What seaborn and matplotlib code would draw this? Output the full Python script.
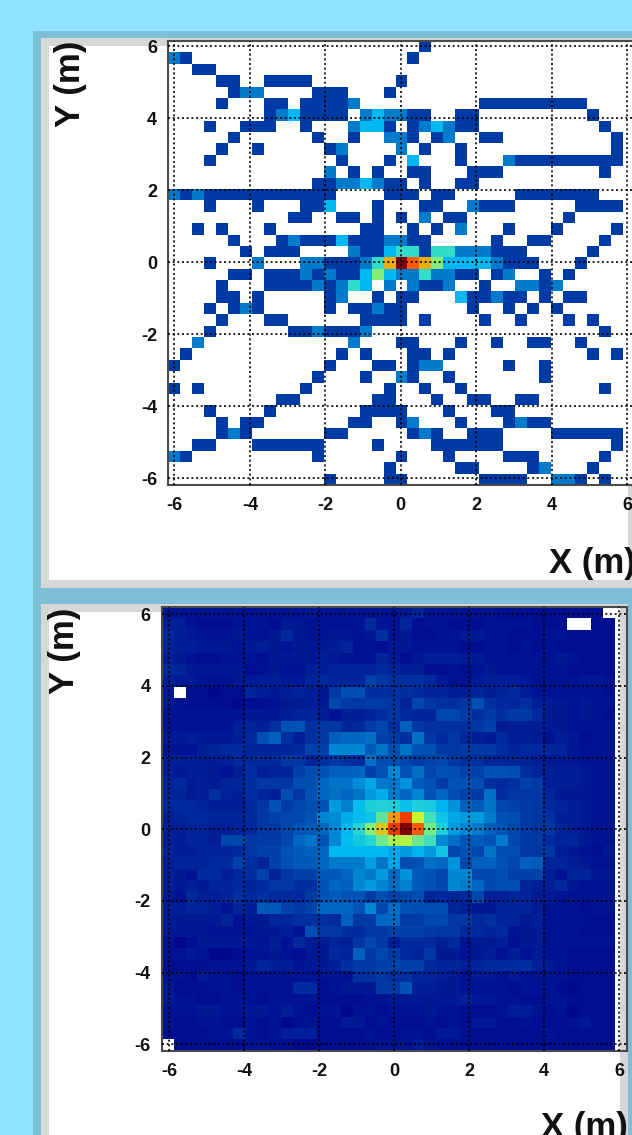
import numpy as np
import matplotlib
matplotlib.use("Agg")
import matplotlib.pyplot as plt
import seaborn as sns

from matplotlib.colors import LinearSegmentedColormap
from matplotlib.patches import Rectangle

WIDTH, HEIGHT = 632, 1135

X_TICKS = [-6, -4, -2, 0, 2, 4, 6]
Y_TICKS = [6, 4, 2, 0, -2, -4, -6]
MINOR_TICKS = [v / 2 for v in range(-12, 13)]
X_TITLE = "X (m)"
Y_TITLE = "Y (m)"

# top histogram, counts per bin as hex digits, top row first
top_rows = [
    "0000000000 0000000000 0100000000 000000000",
    "2100000000 0000000000 1000000000 000000000",
    "0011000000 0000000000 0000000000 000000000",
    "0000110011 1100000001 0000000000 000000000",
    "0000012200 0011100010 0000000000 000000000",
    "0000100011 0111120000 0000001111 111110000",
    "0000000012 3111102322 1100110000 000001000",
    "0001001110 0100023310 1232110000 000000100",
    "0000010000 0010010022 1012001100 000000010",
    "0000100100 0001200002 0100100000 000000010",
    "0001000000 0000100010 3000100021 111111110",
    "0000000000 0002010100 1100011100 000000100",
    "0000000000 0011223211 0100110000 000000000",
    "2121111111 1111000011 1011000001 111111000",
    "0001000100 0113000100 0110021110 000011110",
    "0000000000 1100110101 0201100000 000100000",
    "0010100010 0000001100 1010200010 001000010",
    "0000010001 2111311122 1100000100 110000100",
    "0000001011 1000021134 4144222111 000001000",
    "0001000200 022111247a 8753333211 100010000",
    "0000011011 1212113532 2422110120 010100000",
    "0000100011 1121243020 2112001002 212000000",
    "0000110100 0001200101 1000311211 010110000",
    "0001012100 0001011211 0000010010 101000000",
    "0000100011 0000001111 0100001001 000101000",
    "0001000000 1121112000 0000000000 000000100",
    "0020000000 0000020001 1000100100 110010000",
    "0100000000 0000101000 1101000000 000001010",
    "1000000000 0001000110 1220000010 010000000",
    "0000000000 0010001002 1001000000 010000000",
    "1010000000 0100000010 0100100000 000000100",
    "0000000001 1000000110 0010011001 100000000",
    "0001000010 0000001111 0001000110 000000000",
    "0000101100 0000011001 2000100012 110000000",
    "0000121000 0001100000 1210011100 001111110",
    "0011000111 1110000100 0011111100 000000010",
    "2100000000 0010000001 0001000011 100000100",
    "0000000000 0000000010 0000110000 120001000",
    "0000000000 0001000011 0000001111 002210100",
]

# bottom histogram, read as percent of the peak, top row first
bottom_rows = [
    [3,3,3,3,3,3,3,3,3,3,3,3,4,3,3,3,3,3,3,3,4,6,3,3,3,3,3,3,2,2,2,2,2,2,2,2,2,0],
    [5,5,3,2,2,2,3,3,3,2,4,4,3,3,3,3,3,7,3,3,6,2,3,3,2,2,2,3,3,3,3,2,2,2,0,0,2,2],
    [7,5,4,3,3,3,4,3,3,4,7,4,3,3,4,4,3,4,8,3,4,2,2,3,3,4,4,3,3,2,2,2,3,3,2,2,2,2],
    [6,5,5,4,4,4,3,4,5,4,3,4,4,4,5,6,3,3,2,4,4,3,3,3,3,2,2,3,3,2,3,2,3,2,2,2,2,2],
    [5,4,3,2,2,3,3,3,2,4,4,4,4,5,4,3,3,3,6,4,2,4,5,5,5,4,4,3,3,3,3,3,3,4,3,2,2,2],
    [7,6,4,4,4,4,4,2,3,4,3,3,5,5,6,6,6,6,7,6,5,5,2,2,3,2,3,4,3,3,3,3,3,3,2,2,2,2],
    [5,4,4,3,3,3,4,4,5,5,4,4,6,7,6,6,6,11,9,8,8,8,7,4,3,3,4,5,5,5,4,3,3,3,3,4,4,3],
    [4,0,2,2,1,2,2,6,5,4,5,6,5,4,9,13,13,8,8,8,8,7,6,6,5,5,6,5,6,7,5,3,3,3,3,3,3,2],
    [4,3,2,2,2,2,1,2,2,3,4,4,5,4,12,10,9,10,10,9,6,12,9,8,8,9,13,8,7,6,8,5,4,4,3,4,3,3],
    [3,3,3,3,3,3,3,4,4,4,5,6,6,5,3,5,5,6,8,9,7,6,6,12,12,10,8,10,8,10,10,7,4,4,3,4,3,2],
    [3,3,3,3,3,3,5,6,5,8,14,14,8,9,9,6,7,10,12,8,16,9,8,8,8,8,9,11,4,5,5,5,4,4,3,3,3,3],
    [4,4,5,4,4,4,5,7,13,16,8,5,8,9,16,17,17,18,11,10,8,18,9,7,9,6,5,4,7,5,5,4,3,5,4,2,3,3],
    [3,3,3,5,6,7,7,6,6,6,6,7,11,11,22,22,22,15,19,13,19,14,13,10,9,10,10,10,8,6,7,7,6,6,4,3,3,3],
    [5,5,5,5,5,5,7,7,7,7,9,9,6,8,9,8,7,18,13,13,12,10,11,12,9,8,8,6,6,6,6,5,4,4,4,3,3,3],
    [5,4,5,5,4,3,5,8,5,6,6,11,13,14,16,16,17,11,14,22,14,18,12,14,13,11,11,14,14,13,8,6,5,5,5,4,3,3],
    [6,7,4,5,4,6,6,8,9,9,9,13,13,17,19,19,23,27,20,19,24,15,14,10,14,14,13,8,7,8,11,10,5,5,5,4,3,3],
    [6,6,4,5,8,6,5,8,6,5,13,9,14,17,18,17,19,25,28,20,17,22,14,17,13,11,10,18,8,9,9,9,6,4,4,4,3,3],
    [7,7,7,6,5,5,5,7,9,14,10,12,13,14,25,21,31,36,37,36,32,36,35,29,24,16,15,19,12,11,10,9,7,6,5,4,3,3],
    [5,6,7,7,6,6,6,7,9,11,12,12,14,22,23,28,31,33,45,73,87,60,42,33,27,25,25,20,14,13,10,9,8,5,5,4,3,3],
    [5,5,6,6,5,5,6,7,9,10,12,14,15,17,22,30,38,50,67,88,100,80,48,36,25,22,20,16,14,12,10,9,9,6,5,4,3,3],
    [5,5,6,6,5,12,12,9,10,10,12,17,19,14,22,31,34,38,47,55,57,47,42,22,18,14,15,14,20,12,10,10,7,6,6,4,3,3],
    [6,5,5,6,6,6,7,9,11,11,14,15,16,17,30,30,30,30,30,27,25,29,25,33,12,14,12,19,13,13,9,9,9,5,4,3,2,4],
    [5,6,6,6,7,7,11,8,6,11,13,15,15,17,20,20,20,26,19,27,13,14,18,17,24,12,16,16,14,12,16,15,6,6,5,4,3,3],
    [5,4,3,7,7,5,7,8,11,6,9,11,11,15,15,17,22,20,25,17,24,15,14,12,22,22,12,12,13,11,11,11,5,3,6,6,4,4],
    [5,4,5,4,6,6,7,6,7,9,9,8,8,14,17,16,22,25,22,18,21,15,14,12,22,20,17,12,13,13,6,5,5,7,4,3,3,3],
    [4,3,7,5,5,6,8,7,8,7,7,7,10,14,15,14,14,10,13,11,12,13,6,7,6,7,12,5,5,6,6,4,4,3,3,3,3,3],
    [5,5,6,6,5,3,6,5,15,15,11,10,11,17,17,17,14,22,12,18,14,13,13,13,6,5,4,4,6,6,6,4,3,3,3,2,3,3],
    [4,4,4,4,4,6,3,4,4,6,6,8,8,8,7,16,10,10,17,17,10,10,12,12,9,9,7,8,6,6,4,5,3,3,3,3,2,2],
    [4,4,4,4,3,3,3,3,4,4,5,3,13,9,9,8,7,9,10,11,11,11,10,9,9,7,7,6,7,3,4,4,3,3,3,2,2,2],
    [3,1,2,4,4,4,4,4,3,5,3,7,4,4,6,5,9,12,10,5,7,7,7,5,7,3,4,4,5,2,4,4,3,3,3,3,3,3],
    [3,3,4,3,1,1,2,3,3,4,3,2,4,4,7,6,16,9,12,10,7,6,9,4,4,3,4,5,3,5,3,4,3,3,2,2,2,2],
    [2,2,2,2,3,3,3,4,6,5,5,3,4,4,5,8,10,10,11,11,11,11,7,6,6,5,6,7,7,7,8,5,4,3,2,2,2,2],
    [3,3,2,4,3,3,2,3,3,3,3,3,3,3,3,3,8,8,9,8,8,6,6,5,4,3,4,4,3,4,3,3,3,3,2,2,2,2],
    [4,2,2,2,3,3,2,3,3,3,3,7,7,2,3,4,4,4,10,10,14,5,5,4,4,3,3,3,3,2,3,3,3,2,1,2,2,2],
    [4,3,3,2,2,3,3,3,2,3,3,3,3,2,2,2,2,3,3,4,4,4,4,4,4,5,4,4,3,3,2,2,3,3,2,2,2,2],
    [3,3,3,4,4,3,3,4,4,3,5,3,2,3,3,1,3,3,2,3,3,3,4,3,3,2,2,2,3,5,5,3,2,3,1,2,2,2],
    [3,2,2,3,3,2,2,3,2,3,1,2,3,2,2,4,4,2,3,2,2,2,3,2,3,2,4,4,2,2,3,2,2,2,3,4,2,2],
    [2,2,2,2,3,3,7,3,2,3,5,5,5,2,2,2,2,3,2,2,3,3,2,4,4,2,2,2,2,2,2,2,3,2,2,2,2,2],
    [0,2,2,2,2,2,2,3,3,2,2,1,1,2,2,2,2,2,3,3,3,4,3,2,2,2,2,2,2,2,2,2,2,2,2,2,2,2],
]

LIGHT_BG = "#91E4FF"
MID_BG = "#7CC0D8"
GREY = "#D7D7D7"
FRAME = "#4A4A4A"

palette = ["#00048C", "#003CA5", "#007BCC", "#00B9F2", "#31DCC8", "#86EC78",
           "#C8F52F", "#EAB010", "#FF5A05", "#E83000", "#860000"]
root_cmap = LinearSegmentedColormap.from_list("root_rainbow", palette)
root_cmap.set_bad("white")


def add_rect(fig, x0, y0, x1, y1, color):
    # pixel box on the figure, y measured from the top
    rect = Rectangle((x0 / WIDTH, 1 - y1 / HEIGHT), (x1 - x0) / WIDTH, (y1 - y0) / HEIGHT,
                     transform=fig.transFigure, facecolor=color, edgecolor="none", zorder=-1)
    fig.add_artist(rect)


def draw_panel(fig, data, vmax, box, xlim, ylim):
    left, top, right, bottom = box
    ax = fig.add_axes([left / WIDTH, 1 - bottom / HEIGHT, (right - left) / WIDTH, (bottom - top) / HEIGHT])
    ax.set_facecolor("white")
    sns.heatmap(data, mask=data == 0, cmap=root_cmap, vmin=0, vmax=vmax, cbar=False, ax=ax,
                xticklabels=False, yticklabels=False, linewidths=0)

    n_rows, n_cols = data.shape
    to_col = lambda v: (v - xlim[0]) / (xlim[1] - xlim[0]) * n_cols
    to_row = lambda v: (ylim[1] - v) / (ylim[1] - ylim[0]) * n_rows

    ax.set_xticks([to_col(v) for v in X_TICKS])
    ax.set_xticklabels([str(v) for v in X_TICKS], rotation=0)
    ax.set_yticks([to_row(v) for v in Y_TICKS])
    ax.set_yticklabels([str(v) for v in Y_TICKS], rotation=0)
    ax.set_xticks([to_col(v) for v in MINOR_TICKS if xlim[0] < v < xlim[1]], minor=True)
    ax.set_yticks([to_row(v) for v in MINOR_TICKS if ylim[0] < v < ylim[1]], minor=True)

    ax.tick_params(axis="x", which="major", direction="in", length=10, width=1.1, color="#222222", pad=8.5)
    ax.tick_params(axis="y", which="major", direction="in", length=11, width=1.1, color="#222222", pad=8)
    ax.tick_params(axis="x", which="minor", direction="in", length=5, width=1.0, color="#222222")
    ax.tick_params(axis="y", which="minor", direction="in", length=5, width=1.0, color="#222222")
    for label in ax.get_xticklabels() + ax.get_yticklabels():
        label.set_fontsize(13)
        label.set_fontweight("bold")
        label.set_color("#111111")

    ax.grid(True, which="major", color="black", linewidth=1.2, linestyle=(0, (1.2, 1.6)))
    ax.set_axisbelow(False)
    for spine in ax.spines.values():
        spine.set_visible(True)
        spine.set_color(FRAME)
        spine.set_linewidth(1.5)
    return ax


def axis_titles(fig, x_right, x_base, y_base, y_start):
    fig.text(x_right / WIDTH, 1 - x_base / HEIGHT, X_TITLE, ha="right", va="baseline",
             fontsize=25, fontweight="bold", color="#111111")
    fig.text(y_base / WIDTH, 1 - y_start / HEIGHT, Y_TITLE, ha="left", va="baseline", rotation=90,
             rotation_mode="anchor", fontsize=25, fontweight="bold", color="#111111")


sns.set_theme(style="white")
plt.rcParams["font.family"] = ["Liberation Sans", "DejaVu Sans"]

top_counts = np.array([[int(c, 16) for c in row.replace(" ", "")] for row in top_rows], dtype=float)
bottom_counts = np.column_stack([np.array(bottom_rows, dtype=float), np.zeros(len(bottom_rows))])

fig = plt.figure(figsize=(WIDTH / 100, HEIGHT / 100), dpi=100, facecolor=LIGHT_BG)

# canvas frames behind the two pads
add_rect(fig, 33, 31, WIDTH, HEIGHT, MID_BG)
add_rect(fig, 41, 38, WIDTH, 588, GREY)
add_rect(fig, 49, 46, 628, 580, "white")
add_rect(fig, 41, 604, 628, HEIGHT, GREY)
add_rect(fig, 49, 612, 620, HEIGHT, "white")

draw_panel(fig, top_counts, 10, (168, 41, 635, 485), (-6.17, 6.21), (-6.19, 6.14))
ax_low = draw_panel(fig, bottom_counts, 100, (161.7, 607, 627, 1050.7), (-6.19, 6.21), (-6.18, 6.2))
ax_low.axvspan(38.45, 39, color=GREY, zorder=1.5, linewidth=0)

axis_titles(fig, 636, 573, 80, 127)
axis_titles(fig, 628, 1137, 74, 694)

fig.savefig("out.png", dpi=100, facecolor=fig.get_facecolor())
plt.close(fig)
